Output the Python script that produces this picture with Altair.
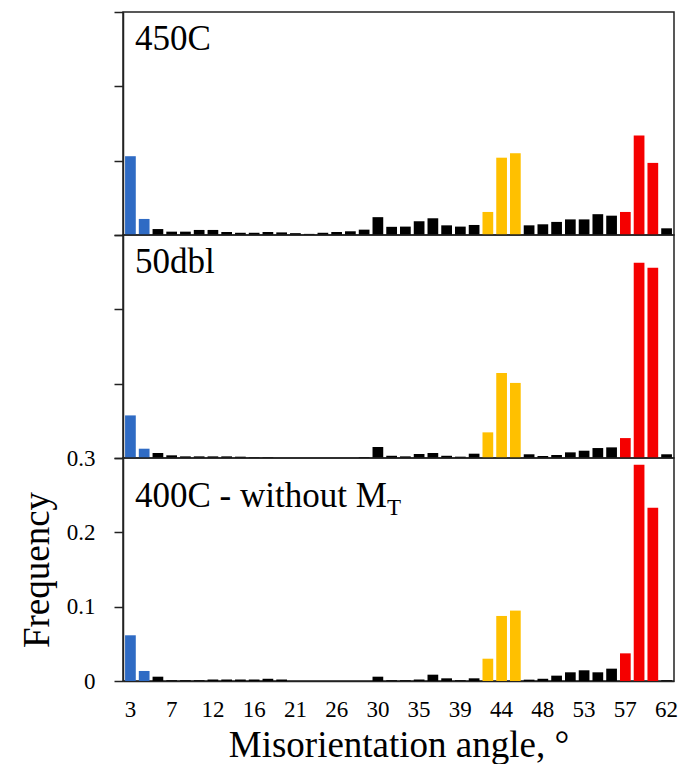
import json
import altair as alt
import pandas as pd

# ---- data ----
bins = list(range(40))  # 40 misorientation-angle bins, 3° ... 62°
x_labels = ["3", "7", "12", "16", "21", "26", "30", "35", "39", "44", "48", "53", "57", "62"]
groups = (["LAGB"] * 2 + ["other"] * 24 + ["~44°"] * 3 + ["other"] * 7 + ["~60°"] * 3 + ["other"])

f_450C = [0.106, 0.0216, 0.008, 0.0045, 0.0045, 0.0068, 0.0068, 0.004, 0.003, 0.003,
          0.004, 0.0035, 0.0025, 0.0015, 0.003, 0.004, 0.005, 0.0072, 0.024, 0.011,
          0.0113, 0.0185, 0.0225, 0.013, 0.0113, 0.0135, 0.031, 0.104, 0.110, 0.013,
          0.0144, 0.0176, 0.021, 0.021, 0.028, 0.026, 0.031, 0.134, 0.097, 0.009]
f_50dbl = [0.0573, 0.0125, 0.0067, 0.0036, 0.0022, 0.0022, 0.0022, 0.0022, 0.0018, 0.001,
           0.001, 0.0, 0.0, 0.0, 0.0, 0.0, 0.0, 0.0013, 0.0148, 0.003,
           0.0022, 0.0054, 0.0067, 0.003, 0.0018, 0.0058, 0.0345, 0.1145, 0.101, 0.005,
           0.0027, 0.004, 0.0076, 0.0098, 0.0134, 0.0143, 0.0268, 0.2627, 0.256, 0.005]
f_400C = [0.0615, 0.0135, 0.0058, 0.001, 0.001, 0.001, 0.002, 0.002, 0.002, 0.002,
          0.003, 0.002, 0.0, 0.0, 0.0, 0.0, 0.0, 0.0, 0.0058, 0.001,
          0.001, 0.002, 0.0085, 0.0036, 0.001, 0.0036, 0.030, 0.0875, 0.0947, 0.0018,
          0.003, 0.0072, 0.0117, 0.0144, 0.0117, 0.0166, 0.0372, 0.291, 0.233, 0.001]

y_ticks = [0, 0.1, 0.2, 0.3]
group_domain = ["LAGB", "other", "~44°", "~60°"]
group_colors = ["#2F6BC4", "#000000", "#FFC000", "#F50000"]

FONT = "Liberation Serif"
W, H = 551, 223

label_expr = json.dumps(x_labels) + "[round(datum.value / 3)]"


def panel(values, label, bottom=False, label_y=38, sub=None):
    df = pd.DataFrame({"bin": bins, "freq": values, "group": groups})
    if bottom:
        xaxis = alt.Axis(values=list(range(0, 40, 3)), labelExpr=label_expr, labelAngle=0,
                         ticks=False, tickSize=0, labelPadding=17, labelFontSize=23,
                         labelFont=FONT, labelColor="black",
                         title="Misorientation angle, °", titleFont=FONT, titleFontSize=37,
                         titleFontWeight="normal", titleColor="black", titlePadding=6,
                         domainColor="#222", domainWidth=1.5)
        yaxis = alt.Axis(values=y_ticks, format="~g", tickSize=9, tickColor="#222", tickWidth=1.5,
                         domainColor="#222", domainWidth=1.5, labelFontSize=23, labelFont=FONT,
                         labelColor="black", labelPadding=19, grid=False,
                         title="Frequency", titleFont=FONT, titleFontSize=37,
                         titleFontWeight="normal", titleColor="black", titlePadding=10)
    else:
        xaxis = None
        yaxis = alt.Axis(values=y_ticks, labels=False, tickSize=9, tickColor="#222", tickWidth=1.5,
                         domainColor="#222", domainWidth=1.5, grid=False, title=None)
    bars = alt.Chart(df).mark_bar().encode(
        x=alt.X("bin:O", sort=bins, scale=alt.Scale(paddingInner=0.22, paddingOuter=0.15), axis=xaxis),
        y=alt.Y("freq:Q", scale=alt.Scale(domain=[0, 0.3], nice=False), axis=yaxis),
        color=alt.Color("group:N", scale=alt.Scale(domain=group_domain, range=group_colors), legend=None),
    )
    txt = alt.Chart(pd.DataFrame({"t": [label]})).mark_text(
        align="left", baseline="alphabetic", font=FONT, fontSize=35, color="black"
    ).encode(x=alt.value(12), y=alt.value(label_y), text="t:N")
    layers = [bars, txt]
    if sub is not None:
        sub_txt = alt.Chart(pd.DataFrame({"t": [sub[0]]})).mark_text(
            align="left", baseline="alphabetic", font=FONT, fontSize=23, color="black"
        ).encode(x=alt.value(sub[1]), y=alt.value(label_y + 8), text="t:N")
        layers.append(sub_txt)
    return alt.layer(*layers).properties(width=W, height=H)


top = panel(f_450C, "450C")
mid = panel(f_50dbl, "50dbl")
bot = panel(f_400C, "400C - without M", bottom=True, label_y=49, sub=("T", 264))

chart = alt.vconcat(top, mid, bot, spacing=0, bounds="flush").properties(
    padding={"left": 17, "top": 10, "right": 5, "bottom": 0}
).configure_view(stroke="#222", strokeWidth=1.5)

chart.save("out.html", embed_options={"renderer": "svg", "actions": False})
